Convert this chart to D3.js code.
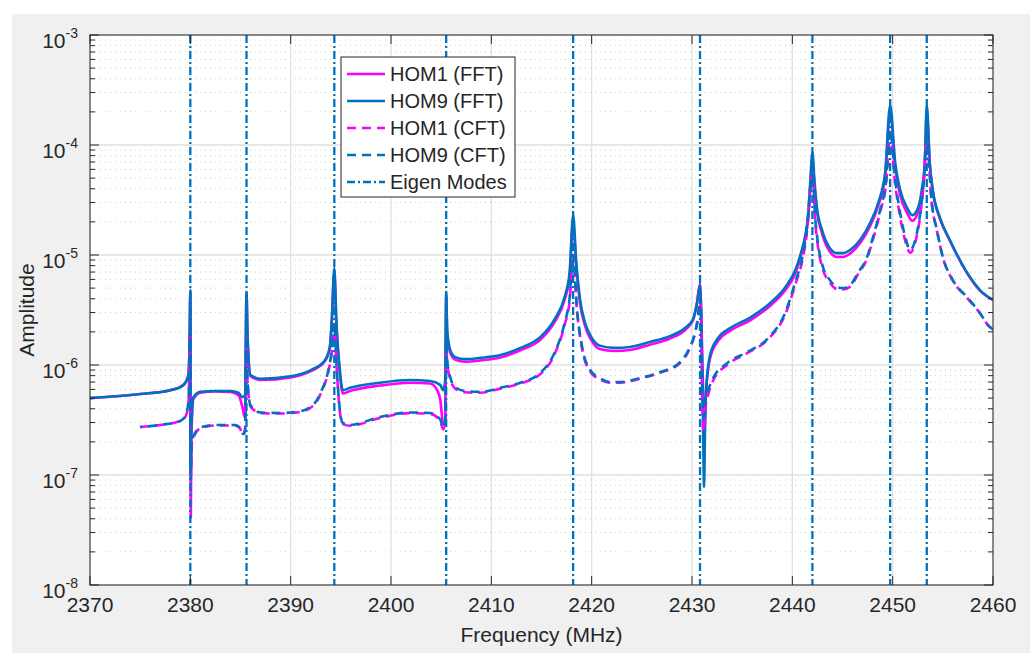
<!DOCTYPE html>
<html>
<head>
<meta charset="utf-8">
<script src="https://cdn.jsdelivr.net/npm/d3@7"></script>
<style>
  html, body { margin: 0; padding: 0; background: #ffffff; }
  svg { display: block; }
  text { font-family: "Liberation Sans", Arial, Helvetica, sans-serif; fill: #262626; }
</style>
</head>
<body>
<svg id="chart" width="1030" height="653"></svg>
<script>
// ---- data -------------------------------------------------------------
const freqDomain = [2370, 2460];
const ampDomain = [1e-8, 1e-3];
const xTickValues = [2370, 2380, 2390, 2400, 2410, 2420, 2430, 2440, 2450, 2460];
const yTickExponents = [-8, -7, -6, -5, -4, -3];

// eigen mode frequencies (MHz)
const eigenModes = [2380.0, 2385.6, 2394.35, 2405.5, 2418.15, 2430.8, 2442.0, 2449.75, 2453.4];

// [frequency (MHz), amplitude]
const hom1FFT = [
  [2370.0,5.0e-7],[2375.0,5.45e-7],[2378.0,5.9e-7],[2379.0,6.3e-7],[2379.5,6.9e-7],[2379.8,8.0e-7],
  [2379.92,1.45e-6],[2380.0,4.6e-6],[2380.05,4.1e-8],[2380.1,2.2e-7],[2380.3,4.9e-7],[2381.0,5.6e-7],
  [2382.5,5.75e-7],[2384.0,5.7e-7],[2384.8,5.3e-7],[2385.2,4.1e-7],[2385.45,3.3e-7],[2385.6,4.4e-6],
  [2385.7,1.8e-6],[2386.0,7.9e-7],[2387.0,7.3e-7],[2390.0,7.7e-7],[2392.0,8.8e-7],[2393.4,1.08e-6],
  [2393.9,1.42e-6],[2394.1,2.5e-6],[2394.35,7.0e-6],[2394.55,2.4e-6],[2394.9,8.4e-7],[2395.2,5.5e-7],
  [2395.9,5.8e-7],[2398.9,6.5e-7],[2401.9,6.9e-7],[2403.9,6.8e-7],[2404.6,5.9e-7],[2404.9,4.9e-7],
  [2405.2,2.9e-7],[2405.4,2.8e-7],[2405.5,4.3e-6],[2405.6,1.9e-6],[2405.9,1.3e-6],[2406.4,1.12e-6],
  [2407.4,1.07e-6],[2408.9,1.1e-6],[2410.9,1.17e-6],[2412.9,1.36e-6],[2414.9,1.7e-6],[2416.3,2.45e-6],
  [2417.3,3.9e-6],[2417.8,6.3e-6],[2418.15,2.0e-5],[2418.45,8.3e-6],[2418.85,3.6e-6],[2419.35,2.25e-6],
  [2419.85,1.75e-6],[2420.8,1.4e-6],[2422.3,1.34e-6],[2423.8,1.37e-6],[2425.8,1.53e-6],[2427.8,1.74e-6],
  [2429.3,2.08e-6],[2430.1,2.55e-6],[2430.5,3.7e-6],[2430.8,5.5e-6],[2430.95,2.3e-6],[2431.1,6.0e-7],
  [2431.2,2.1e-7],[2431.3,3.3e-7],[2431.4,5.6e-7],[2431.8,1.15e-6],[2432.6,1.66e-6],[2433.8,2.05e-6],
  [2435.8,2.55e-6],[2437.8,3.45e-6],[2439.3,4.8e-6],[2440.3,6.8e-6],[2440.8,9.4e-6],[2441.3,1.43e-5],
  [2441.6,2.25e-5],[2441.8,4.3e-5],[2442.0,7.6e-5],[2442.2,4.3e-5],[2442.45,2.5e-5],[2442.95,1.58e-5],
  [2443.55,1.14e-5],[2444.45,9.6e-6],[2445.05,9.6e-6],[2445.75,1.03e-5],[2446.75,1.28e-5],[2447.75,1.83e-5],
  [2448.55,2.8e-5],[2449.25,5.2e-5],[2449.75,2.0e-4],[2450.25,6.3e-5],[2450.75,3.5e-5],[2451.45,2.4e-5],
  [2451.95,2.05e-5],[2452.45,2.35e-5],[2452.9,3.6e-5],[2453.2,6.4e-5],[2453.4,2.0e-4],[2453.7,6.6e-5],
  [2454.0,3.8e-5],[2454.7,2.15e-5],[2455.7,1.35e-5],[2456.7,8.9e-6],[2457.7,6.25e-6],[2458.7,4.75e-6],
  [2460.0,3.9e-6]
];

const hom9FFT = [
  [2370.0,5.0e-7],[2375.0,5.45e-7],[2378.0,5.9e-7],[2379.0,6.3e-7],[2379.5,6.9e-7],[2379.8,8.1e-7],
  [2379.92,1.5e-6],[2380.0,4.8e-6],[2380.05,9.0e-8],[2380.1,2.6e-7],[2380.3,5.1e-7],[2381.0,5.7e-7],
  [2382.5,5.8e-7],[2384.0,5.8e-7],[2384.8,5.6e-7],[2385.2,5.1e-7],[2385.45,5.3e-7],[2385.6,4.6e-6],
  [2385.7,1.9e-6],[2386.0,8.1e-7],[2387.0,7.5e-7],[2390.0,7.9e-7],[2392.0,9.0e-7],[2393.4,1.1e-6],
  [2393.9,1.46e-6],[2394.1,2.6e-6],[2394.35,7.6e-6],[2394.55,2.6e-6],[2394.9,9.0e-7],[2395.2,5.9e-7],
  [2395.9,6.2e-7],[2398.9,6.9e-7],[2401.9,7.3e-7],[2403.9,7.15e-7],[2404.9,6.6e-7],[2405.2,5.9e-7],
  [2405.4,7.3e-7],[2405.5,4.6e-6],[2405.6,2.1e-6],[2405.9,1.37e-6],[2406.4,1.18e-6],[2407.4,1.13e-6],
  [2408.9,1.16e-6],[2410.9,1.23e-6],[2412.9,1.43e-6],[2414.9,1.8e-6],[2416.3,2.6e-6],[2417.3,4.15e-6],
  [2417.8,6.9e-6],[2418.15,2.3e-5],[2418.45,9.0e-6],[2418.85,3.9e-6],[2419.35,2.4e-6],[2419.85,1.87e-6],
  [2420.8,1.5e-6],[2422.3,1.43e-6],[2423.8,1.46e-6],[2425.8,1.62e-6],[2427.8,1.83e-6],[2429.3,2.17e-6],
  [2430.1,2.6e-6],[2430.5,3.66e-6],[2430.8,5.3e-6],[2430.95,2.1e-6],[2431.1,3.2e-7],[2431.2,7.8e-8],
  [2431.3,2.6e-7],[2431.4,5.9e-7],[2431.8,1.23e-6],[2432.6,1.76e-6],[2433.8,2.17e-6],[2435.8,2.7e-6],
  [2437.8,3.66e-6],[2439.3,5.1e-6],[2440.3,7.3e-6],[2440.8,1.0e-5],[2441.3,1.52e-5],[2441.6,2.4e-5],
  [2441.8,4.8e-5],[2442.0,8.6e-5],[2442.2,4.8e-5],[2442.45,2.7e-5],[2442.95,1.7e-5],[2443.55,1.23e-5],
  [2444.45,1.04e-5],[2445.05,1.04e-5],[2445.75,1.11e-5],[2446.75,1.37e-5],[2447.75,1.95e-5],[2448.55,2.97e-5],
  [2449.25,5.6e-5],[2449.75,2.3e-4],[2450.25,6.9e-5],[2450.75,3.9e-5],[2451.45,2.67e-5],[2451.95,2.3e-5],
  [2452.45,2.57e-5],[2452.9,3.9e-5],[2453.2,6.9e-5],[2453.4,2.3e-4],[2453.7,6.9e-5],[2454.0,3.9e-5],
  [2454.7,2.2e-5],[2455.7,1.37e-5],[2456.7,9.0e-6],[2457.7,6.3e-6],[2458.7,4.8e-6],[2460.0,3.9e-6]
];

const hom1CFT = [
  [2375.0,2.73e-7],[2377.0,2.85e-7],[2379.0,3.1e-7],[2379.55,3.45e-7],[2379.82,4.6e-7],[2380.0,2.0e-6],
  [2380.05,1.0e-7],[2380.12,1.8e-7],[2380.27,2.15e-7],[2381.0,2.65e-7],[2382.5,2.82e-7],[2384.45,2.82e-7],
  [2384.95,2.65e-7],[2385.25,2.3e-7],[2385.45,2.5e-7],[2385.6,1.8e-6],[2385.7,7.0e-7],[2386.0,4.2e-7],
  [2387.0,3.65e-7],[2388.95,3.62e-7],[2390.95,3.75e-7],[2392.4,4.4e-7],[2393.1,5.8e-7],[2393.7,8.3e-7],
  [2394.1,1.33e-6],[2394.35,2.35e-6],[2394.55,1.05e-6],[2394.9,3.8e-7],[2395.2,2.9e-7],[2395.9,2.8e-7],
  [2398.9,3.3e-7],[2401.9,3.65e-7],[2403.9,3.6e-7],[2404.9,3.1e-7],[2405.2,2.6e-7],[2405.4,3.1e-7],
  [2405.5,1.6e-6],[2405.6,1.05e-6],[2405.9,7.5e-7],[2406.4,6.1e-7],[2407.4,5.65e-7],[2408.9,5.6e-7],
  [2410.9,6.1e-7],[2412.9,6.8e-7],[2414.9,8.3e-7],[2416.3,1.25e-6],[2417.3,2.3e-6],[2417.8,3.8e-6],
  [2418.15,9.0e-6],[2418.55,3.0e-6],[2419.05,1.4e-6],[2419.85,8.7e-7],[2420.8,7.4e-7],[2421.8,6.9e-7],
  [2422.8,6.9e-7],[2424.8,7.5e-7],[2426.8,8.5e-7],[2428.8,1.04e-6],[2429.8,1.43e-6],[2430.3,1.95e-6],
  [2430.6,2.8e-6],[2430.8,4.5e-6],[2430.95,1.5e-6],[2431.0,5.5e-7],[2431.15,2.5e-7],[2431.3,3.8e-7],
  [2431.6,5.3e-7],[2432.1,7.2e-7],[2433.5,1.0e-6],[2435.5,1.28e-6],[2437.6,1.72e-6],[2439.3,2.9e-6],
  [2440.3,5.4e-6],[2441.0,9.0e-6],[2441.5,1.8e-5],[2441.7,3.1e-5],[2442.0,5.6e-5],[2442.25,2.2e-5],
  [2442.55,1.2e-5],[2443.05,7.4e-6],[2443.75,5.6e-6],[2444.45,4.9e-6],[2445.05,4.85e-6],[2445.75,5.15e-6],
  [2446.55,6.7e-6],[2447.45,9.3e-6],[2448.05,1.4e-5],[2448.75,2.45e-5],[2449.35,4.5e-5],[2449.75,1.25e-4],
  [2450.25,4.4e-5],[2450.75,2.2e-5],[2451.25,1.35e-5],[2451.75,1.05e-5],[2452.25,1.3e-5],[2452.75,2.3e-5],
  [2453.05,4.0e-5],[2453.4,1.1e-4],[2453.9,2.9e-5],[2454.4,1.68e-5],[2455.0,9.5e-6],[2456.0,5.85e-6],
  [2457.4,4.1e-6],[2458.7,2.95e-6],[2459.5,2.3e-6],[2460.0,2.1e-6]
];

const hom9CFT = [
  [2375.0,2.73e-7],[2377.0,2.85e-7],[2379.0,3.1e-7],[2379.55,3.5e-7],[2379.82,4.8e-7],[2380.0,2.1e-6],
  [2380.05,1.1e-7],[2380.12,1.87e-7],[2380.27,2.2e-7],[2381.0,2.7e-7],[2382.5,2.85e-7],[2384.45,2.85e-7],
  [2384.95,2.7e-7],[2385.25,2.36e-7],[2385.45,2.56e-7],[2385.6,1.87e-6],[2385.7,7.3e-7],[2386.0,4.3e-7],
  [2387.0,3.7e-7],[2388.95,3.66e-7],[2390.95,3.8e-7],[2392.4,4.5e-7],[2393.1,5.9e-7],[2393.7,8.5e-7],
  [2394.1,1.37e-6],[2394.35,2.46e-6],[2394.55,1.1e-6],[2394.9,3.9e-7],[2395.2,2.97e-7],[2395.9,2.85e-7],
  [2398.9,3.37e-7],[2401.9,3.7e-7],[2403.9,3.66e-7],[2404.9,3.2e-7],[2405.2,2.7e-7],[2405.4,3.2e-7],
  [2405.5,1.69e-6],[2405.6,1.1e-6],[2405.9,7.8e-7],[2406.4,6.3e-7],[2407.4,5.8e-7],[2408.9,5.7e-7],
  [2410.9,6.2e-7],[2412.9,6.9e-7],[2414.9,8.5e-7],[2416.3,1.29e-6],[2417.3,2.4e-6],[2417.8,4.06e-6],
  [2418.15,1.0e-5],[2418.55,3.16e-6],[2419.05,1.46e-6],[2419.85,9.0e-7],[2420.8,7.6e-7],[2421.8,7.0e-7],
  [2422.8,7.0e-7],[2424.8,7.6e-7],[2426.8,8.6e-7],[2428.8,1.06e-6],[2429.8,1.46e-6],[2430.3,1.95e-6],
  [2430.6,2.73e-6],[2430.8,4.15e-6],[2430.95,1.69e-6],[2431.0,7.3e-7],[2431.15,3.3e-7],[2431.3,4.8e-7],
  [2431.6,5.9e-7],[2432.1,7.6e-7],[2433.5,1.04e-6],[2435.5,1.31e-6],[2437.6,1.76e-6],[2439.3,3.0e-6],
  [2440.3,5.7e-6],[2441.0,9.6e-6],[2441.5,1.95e-5],[2441.7,3.37e-5],[2442.0,6.2e-5],[2442.25,2.4e-5],
  [2442.55,1.29e-5],[2443.05,7.8e-6],[2443.75,5.9e-6],[2444.45,5.1e-6],[2445.05,5.0e-6],[2445.75,5.3e-6],
  [2446.55,6.9e-6],[2447.45,9.6e-6],[2448.05,1.46e-5],[2448.75,2.57e-5],[2449.35,4.8e-5],[2449.75,1.37e-4],
  [2450.25,4.8e-5],[2450.75,2.4e-5],[2451.25,1.46e-5],[2451.75,1.11e-5],[2452.25,1.37e-5],[2452.75,2.4e-5],
  [2453.05,4.15e-5],[2453.4,1.18e-4],[2453.9,2.97e-5],[2454.4,1.7e-5],[2455.0,9.6e-6],[2456.0,5.9e-6],
  [2457.4,4.15e-6],[2458.7,2.97e-6],[2459.5,2.3e-6],[2460.0,2.1e-6]
];

const legendLabels = ["HOM1 (FFT)", "HOM9 (FFT)", "HOM1 (CFT)", "HOM9 (CFT)", "Eigen Modes"];

// ---- layout -----------------------------------------------------------
const W = 1030, H = 653;
const plot = { left: 90, right: 993, top: 35, bottom: 585 };
const MAGENTA = "#ff00ff", BLUE = "#0072bd", AXIS = "#262626";
const DASHED = "9,6", DASHDOT = "8,3,2,3";

const svg = d3.select("#chart");

// figure background
svg.append("rect").attr("x", 0).attr("y", 0).attr("width", W).attr("height", H).attr("fill", "#ffffff");
svg.append("rect").attr("x", 12).attr("y", 14).attr("width", W - 12).attr("height", H - 14).attr("fill", "#f0f0f0");

const x = d3.scaleLinear().domain(freqDomain).range([plot.left, plot.right]);
const y = d3.scaleLog().domain(ampDomain).range([plot.bottom, plot.top]);

// axes background
svg.append("rect")
  .attr("x", plot.left).attr("y", plot.top)
  .attr("width", plot.right - plot.left).attr("height", plot.bottom - plot.top)
  .attr("fill", "#ffffff");

svg.append("defs").append("clipPath").attr("id", "plot-clip")
  .append("rect")
  .attr("x", plot.left).attr("y", plot.top)
  .attr("width", plot.right - plot.left).attr("height", plot.bottom - plot.top);

// ---- grid -------------------------------------------------------------
const minorValues = [];
yTickExponents.slice(0, -1).forEach(e => {
  for (let m = 2; m <= 9; m++) minorValues.push(m * Math.pow(10, e));
});
const majorValues = yTickExponents.map(e => Math.pow(10, e));

const grid = svg.append("g");
grid.selectAll("line.minor").data(minorValues).join("line")
  .attr("class", "minor")
  .attr("x1", plot.left).attr("x2", plot.right)
  .attr("y1", d => y(d)).attr("y2", d => y(d))
  .attr("stroke", "#cfcfcf").attr("stroke-width", 1)
  .attr("stroke-dasharray", "1,4");
grid.selectAll("line.hmajor").data(majorValues).join("line")
  .attr("class", "hmajor")
  .attr("x1", plot.left).attr("x2", plot.right)
  .attr("y1", d => y(d)).attr("y2", d => y(d))
  .attr("stroke", "#e1e1e1").attr("stroke-width", 1.3);
grid.selectAll("line.vmajor").data(xTickValues).join("line")
  .attr("class", "vmajor")
  .attr("x1", d => x(d)).attr("x2", d => x(d))
  .attr("y1", plot.top).attr("y2", plot.bottom)
  .attr("stroke", "#e1e1e1").attr("stroke-width", 1.3);

// ---- data lines -------------------------------------------------------
const line = d3.line()
  .x(d => x(d[0]))
  .y(d => y(d[1]))
  .curve(d3.curveMonotoneX);

const series = [
  { name: legendLabels[0], data: hom1FFT, color: MAGENTA, dash: null, offset: 0 },
  { name: legendLabels[1], data: hom9FFT, color: BLUE, dash: null, offset: 0 },
  { name: legendLabels[2], data: hom1CFT, color: MAGENTA, dash: DASHED, offset: 0 },
  { name: legendLabels[3], data: hom9CFT, color: BLUE, dash: DASHED, offset: 7 }
];

const lines = svg.append("g").attr("clip-path", "url(#plot-clip)");
series.forEach(s => {
  lines.append("path")
    .datum(s.data)
    .attr("d", line)
    .attr("fill", "none")
    .attr("stroke", s.color)
    .attr("stroke-width", 2.6)
    .attr("stroke-linejoin", "round")
    .attr("stroke-dasharray", s.dash)
    .attr("stroke-dashoffset", s.offset);
});

// eigen modes: vertical dash-dot lines
lines.selectAll("line.eigen").data(eigenModes).join("line")
  .attr("class", "eigen")
  .attr("x1", d => x(d)).attr("x2", d => x(d))
  .attr("y1", y(ampDomain[1])).attr("y2", y(ampDomain[0]))
  .attr("stroke", BLUE).attr("stroke-width", 2.3)
  .attr("stroke-dasharray", DASHDOT);

// ---- axes box and ticks -----------------------------------------------
const axes = svg.append("g");
axes.append("rect")
  .attr("x", plot.left).attr("y", plot.top)
  .attr("width", plot.right - plot.left).attr("height", plot.bottom - plot.top)
  .attr("fill", "none").attr("stroke", AXIS).attr("stroke-width", 1);

const majorLen = 9, minorLen = 5;
xTickValues.forEach(v => {
  axes.append("line").attr("x1", x(v)).attr("x2", x(v))
    .attr("y1", plot.bottom).attr("y2", plot.bottom - majorLen)
    .attr("stroke", AXIS);
  axes.append("line").attr("x1", x(v)).attr("x2", x(v))
    .attr("y1", plot.top).attr("y2", plot.top + majorLen)
    .attr("stroke", AXIS);
});
majorValues.forEach(v => {
  axes.append("line").attr("x1", plot.left).attr("x2", plot.left + majorLen)
    .attr("y1", y(v)).attr("y2", y(v)).attr("stroke", AXIS);
  axes.append("line").attr("x1", plot.right).attr("x2", plot.right - majorLen)
    .attr("y1", y(v)).attr("y2", y(v)).attr("stroke", AXIS);
});
minorValues.forEach(v => {
  axes.append("line").attr("x1", plot.left).attr("x2", plot.left + minorLen)
    .attr("y1", y(v)).attr("y2", y(v)).attr("stroke", AXIS);
  axes.append("line").attr("x1", plot.right).attr("x2", plot.right - minorLen)
    .attr("y1", y(v)).attr("y2", y(v)).attr("stroke", AXIS);
});

// x tick labels
svg.append("g").selectAll("text").data(xTickValues).join("text")
  .attr("x", d => x(d)).attr("y", plot.bottom + 27)
  .attr("text-anchor", "middle")
  .attr("font-size", 21)
  .text(d => d);

// y tick labels: 10 with superscript exponent
const yLabels = svg.append("g");
yTickExponents.forEach(e => {
  const t = yLabels.append("text")
    .attr("x", 78).attr("y", y(Math.pow(10, e)) + 13)
    .attr("text-anchor", "end")
    .attr("font-size", 21);
  t.append("tspan").text("10");
  t.append("tspan").attr("font-size", 14).attr("dy", -10).text(String(e));
});

// axis titles
svg.append("text")
  .attr("x", (plot.left + plot.right) / 2).attr("y", 642)
  .attr("text-anchor", "middle").attr("font-size", 21)
  .text("Frequency (MHz)");
svg.append("text")
  .attr("transform", `translate(34,${(plot.top + plot.bottom) / 2}) rotate(-90)`)
  .attr("text-anchor", "middle").attr("font-size", 21)
  .text("Amplitude");

// ---- legend -----------------------------------------------------------
const legend = svg.append("g").attr("transform", "translate(341,57)");
legend.append("rect")
  .attr("x", 0).attr("y", 0).attr("width", 174).attr("height", 140)
  .attr("fill", "#ffffff").attr("stroke", AXIS).attr("stroke-width", 1);

const legendItems = [
  { label: legendLabels[0], color: MAGENTA, dash: null },
  { label: legendLabels[1], color: BLUE, dash: null },
  { label: legendLabels[2], color: MAGENTA, dash: DASHED },
  { label: legendLabels[3], color: BLUE, dash: DASHED },
  { label: legendLabels[4], color: BLUE, dash: DASHDOT }
];
legendItems.forEach((d, i) => {
  const cy = 17 + i * 27;
  legend.append("line")
    .attr("x1", 6).attr("x2", 44).attr("y1", cy).attr("y2", cy)
    .attr("stroke", d.color).attr("stroke-width", 2.4)
    .attr("stroke-dasharray", d.dash);
  legend.append("text")
    .attr("x", 49).attr("y", cy + 7)
    .attr("font-size", 20)
    .text(d.label);
});
</script>
</body>
</html>
